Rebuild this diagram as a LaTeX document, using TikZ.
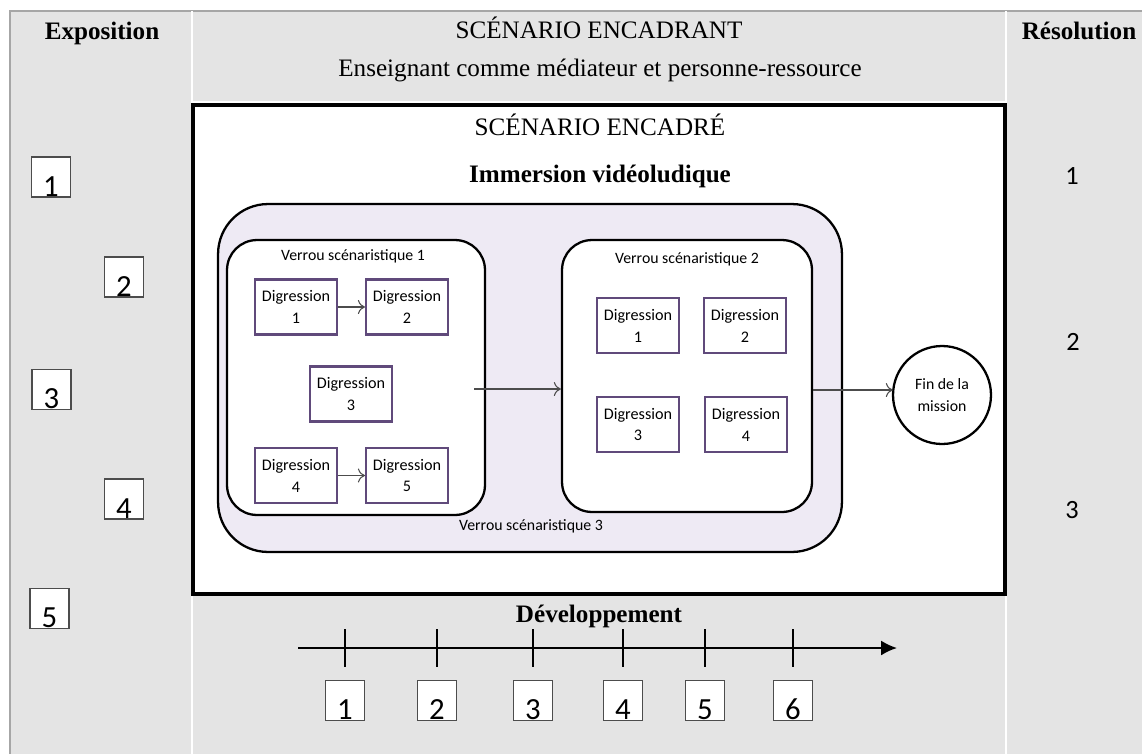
\documentclass[tikz,border=0pt]{standalone}
\usepackage{fontspec}
\setmainfont{Liberation Serif}
\newfontfamily\calfont{Carlito}
\usetikzlibrary{calc,arrows.meta}
\definecolor{cellgray}{RGB}{228,228,228}
\definecolor{lockfill}{RGB}{238,234,244}
\definecolor{digpurple}{RGB}{96,74,123}

\begin{document}
\begin{tikzpicture}[x=0.02cm,y=-0.02cm,
    head/.style={font=\fontsize{14.3}{16}\selectfont,anchor=base},
    small/.style={font=\calfont\fontsize{9}{12.5}\selectfont},
    numbox/.style={draw=black!70,line width=0.6pt,fill=white,inner sep=0pt,
        minimum width=0.78cm,text height=0.78cm,text depth=0.02cm,
        font=\calfont\fontsize{17.5}{18}\selectfont},
    lock/.style={draw,line width=1.3pt,fill=white,rounded corners=0.6cm,inner sep=0pt},
    dig/.style={draw=digpurple,line width=1.2pt,fill=white,minimum width=1.64cm,
        minimum height=1.1cm,inner sep=0pt,align=center,small,font=\calfont\fontsize{9.2}{12.5}\selectfont},
    flow/.style={draw=black!70,line width=0.6pt,-{To[length=4pt,width=8pt]}}]

\useasboundingbox (0,0) rectangle (1142,754);

%% table background
\fill[cellgray] (10,11) rectangle (1142,754);
\draw[black!35,line width=0.6pt] (10,754) -- (10,11) -- (1142,11);
\draw[white,line width=1pt] (192,11) -- (192,754) (1006,11) -- (1006,754) (192,102) -- (1006,102);

\node[head] (expo) at (102,39) {\textbf{Exposition}};
\node[head] (enc) at (599,38) {SCÉNARIO ENCADRANT};
\node[head] (med) at (600,76) {Enseignant comme médiateur et personne-ressource};
\node[head] (reso) at (1079,39) {\textbf{Résolution}};

%% framed scenario
\draw[line width=0.8mm,fill=white] (193,105) rectangle (1005,594);
\node[head] (encd) at (600,135) {SCÉNARIO ENCADRÉ};
\node[head] (immer) at (600,182) {\textbf{Immersion vidéoludique}};

\node[lock,fill=lockfill,rounded corners=1cm,minimum width=12.48cm,minimum height=6.96cm] (vs3) at (530,378) {};
\node[small,anchor=base] (vs3lbl) at (531,530) {Verrou scénaristique 3};

\node[lock,minimum width=5.16cm,minimum height=5.5cm] (vs1) at (356,377.5) {};
\node[small,anchor=base] (vs1lbl) at (353,260) {Verrou scénaristique 1};
\node[lock,minimum width=5cm,minimum height=5.44cm] (vs2) at (687,376) {};
\node[small,anchor=base] (vs2lbl) at (687,263) {Verrou scénaristique 2};

\node[dig] (a1) at (296,307) {Digression\\1};
\node[dig] (a2) at (407,307) {Digression\\2};
\node[dig] (a3) at (351,394) {Digression\\3};
\node[dig] (a4) at (296,475.5) {Digression\\4};
\node[dig] (a5) at (407,475.5) {Digression\\5};

\node[dig] (b1) at (638,325.5) {Digression\\1};
\node[dig] (b2) at (745,325.5) {Digression\\2};
\node[dig] (b3) at (638,424.5) {Digression\\3};
\node[dig] (b4) at (746,424.5) {Digression\\4};

\node[draw,circle,line width=1.3pt,fill=white,minimum size=1.96cm,inner sep=0pt,align=center,small] (fin) at (942,395) {Fin de la\\mission};

\draw[flow] (a1) -- (a2);
\draw[flow] (a4) -- (a5);
\draw[flow] ($(vs1.east)+(-12,11.5)$) -- ($(vs1.east -| vs2.west)+(0,11.5)$);
\draw[flow] ($(vs2.east)+(0,14)$) -- ($(fin.west)+(1,-5)$);

%% exposition and resolution
\node[numbox] (e1) at (51,177) {1};
\node[numbox] (e2) at (124,277) {2};
\node[numbox] (e3) at (51.5,389.5) {3};
\node[numbox] (e4) at (124,499) {4};
\node[numbox] (e5) at (49.5,608.5) {5};

\node[font=\calfont\fontsize{15}{16}\selectfont,anchor=base] (r1) at (1072,184) {1};
\node[font=\calfont\fontsize{15}{16}\selectfont,anchor=base] (r2) at (1073,350) {2};
\node[font=\calfont\fontsize{15}{16}\selectfont,anchor=base] (r3) at (1072,518) {3};

%% development axis
\node[head] (dev) at (599,622) {\textbf{Développement}};
\coordinate (t0) at (298,648);
\coordinate (t1) at (897,648);
\draw[line width=1.2pt,-{Latex[length=9pt,width=8.5pt]}] (t0) -- (t1);
\foreach \i/\x in {1/345,2/437,3/533,4/623,5/705,6/793}{
  \draw[line width=1.2pt] (\x,629) -- (\x,667);
  \node[numbox,anchor=north] (d\i) at (\x,680) {\i};
}
\end{tikzpicture}
\end{document}
